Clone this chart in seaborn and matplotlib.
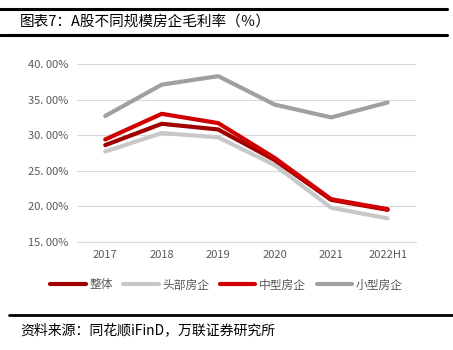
import pandas as pd
import matplotlib.pyplot as plt
import matplotlib.lines as mlines
import seaborn as sns

# data
years = ["2017", "2018", "2019", "2020", "2021", "2022H1"]
overall = [28.6, 31.6, 30.8, 26.5, 20.9, 19.5]
top = [27.7, 30.3, 29.7, 25.8, 19.8, 18.3]
mid = [29.4, 33.0, 31.7, 26.8, 21.0, 19.6]
small = [32.7, 37.1, 38.3, 34.3, 32.5, 34.6]
series_names = ["整体", "头部房企", "中型房企", "小型房企"]
colors = ["#A00000", "#C8C8C8", "#D00000", "#A0A0A0"]

data = pd.DataFrame({
    "year": years * 4,
    "value": overall + top + mid + small,
    "series": [s for s in series_names for _ in years],
})

sns.set_style("white")
plt.rcParams['font.family'] = ['Noto Sans CJK SC', 'DejaVu Sans']

fig = plt.figure(figsize=(4.53, 3.5), dpi=100)
ax = fig.add_axes([0.170, 0.309, 0.748, 0.508])

# draw order: back to front like the reference
order = ["小型房企", "头部房企", "整体", "中型房企"]
palette = dict(zip(series_names, colors))
for name in order:
    sns.lineplot(x="year", y="value", data=data[data["series"] == name],
                 color=palette[name], lw=3, ax=ax, sort=False, legend=False)

ax.set_ylim(15, 40)
ax.set_yticks([15, 20, 25, 30, 35, 40])
ax.set_yticklabels([f"{v:.2f}%".replace(".", ". ") for v in [15, 20, 25, 30, 35, 40]],
                   fontsize=8, color="#595959")
ax.set_xlim(-0.5, len(years) - 0.5)
ax.set_xticks(range(len(years)))
ax.set_xticklabels(years, fontsize=8, color="#595959")
ax.set_xlabel("")
ax.set_ylabel("")
ax.grid(True, axis="y", color="#D9D9D9", lw=0.8)
ax.tick_params(axis="both", length=0, pad=6)
# small ticks between categories on the bottom axis
ax.set_xticks([i - 0.5 for i in range(len(years) + 1)], minor=True)
ax.tick_params(axis="x", which="minor", length=4, color="#D9D9D9", width=0.8)
for side in ["top", "right", "left"]:
    ax.spines[side].set_visible(False)
ax.spines["bottom"].set_color("#D9D9D9")
ax.spines["bottom"].set_linewidth(0.8)

handles = [mlines.Line2D([], [], color=c, lw=3) for c in colors]
fig.legend(handles, series_names, loc="center", bbox_to_anchor=(0.5, 0.186), ncol=4,
           frameon=False, fontsize=8.5, labelcolor="#595959", handlelength=3.0,
           handletextpad=0.3, columnspacing=0.9)

# title and source with rules
fig.add_artist(mlines.Line2D([0, 0.987], [1 - 9 / 350, 1 - 9 / 350], color="black", lw=2.2))
fig.add_artist(mlines.Line2D([0, 0.987], [1 - 35 / 350, 1 - 35 / 350], color="black", lw=2.2))
fig.text(20 / 453, 1 - 22 / 350, "图表7：A股不同规模房企毛利率（％）", fontsize=10.5,
         va="center", ha="left", color="black")
fig.add_artist(mlines.Line2D([9 / 453, 1], [1 - 315 / 350, 1 - 315 / 350], color="black", lw=2))
fig.text(20 / 453, 1 - 330 / 350, "资料来源：同花顺iFinD，万联证券研究所", fontsize=10,
         va="center", ha="left", color="black", style="italic")

plt.savefig("out.png", dpi=100)
